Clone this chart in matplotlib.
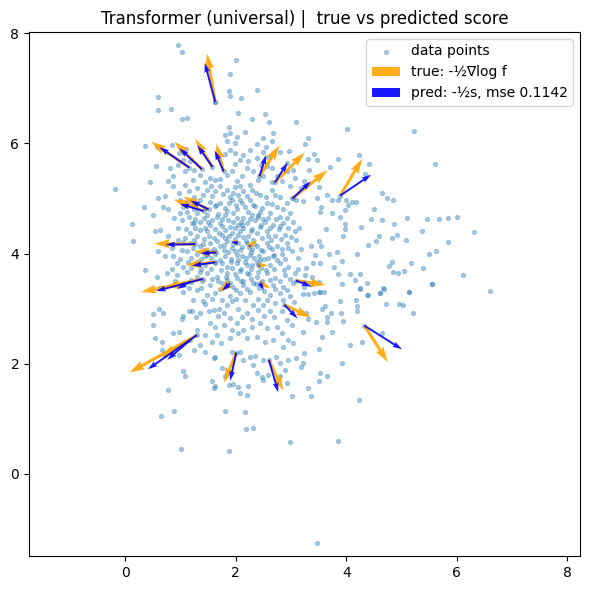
import numpy as np
import matplotlib
matplotlib.use("Agg")
import matplotlib.pyplot as plt

# data points (grouped by region)
top_pts = [(0.95, 7.79), (1.02, 7.65), (2.00, 7.51), (1.90, 7.26), (1.87, 6.95), (1.89, 6.86),
           (2.10, 6.82), (2.39, 6.97), (0.60, 6.84), (1.63, 6.75)]

upper_left_pts = [
    (0.60, 6.61), (0.83, 6.62), (1.02, 6.44), (1.12, 6.46), (2.05, 6.55), (2.53, 6.53), (2.29, 6.44),
    (2.61, 6.38), (3.09, 6.38), (1.87, 6.29), (2.16, 6.20), (2.68, 6.18), (1.90, 6.18), (1.81, 6.15),
    (2.02, 6.12), (1.84, 6.05), (1.99, 6.00), (2.50, 6.09), (2.38, 5.99), (2.65, 6.05), (2.55, 5.94),
    (0.36, 5.95), (0.57, 5.94), (0.84, 5.97), (1.10, 5.89), (0.98, 5.83),
    (1.90, 5.88), (1.99, 5.83), (2.14, 5.79), (2.26, 5.88), (2.50, 5.85), (2.80, 5.85), (2.97, 5.86),
    (2.08, 5.70), (2.23, 5.67), (2.38, 5.73), (2.59, 5.76), (2.92, 5.64), (3.04, 5.52), (1.05, 5.70),
    (0.96, 5.61), (1.18, 5.67), (0.81, 5.55), (1.24, 5.52), (0.56, 5.59),
    (1.09, 5.49), (0.87, 5.40), (0.78, 5.31), (0.86, 5.22), (1.09, 5.25), (1.15, 5.13), (1.36, 5.43),
    (1.54, 5.37), (1.63, 5.34), (1.84, 5.43), (1.93, 5.49), (2.02, 5.31), (2.20, 5.55), (2.08, 5.22),
    (2.32, 5.49), (2.50, 5.40), (2.56, 5.58), (2.74, 5.40), (2.83, 5.31), (2.98, 5.22), (2.92, 5.49),
    (3.07, 5.37), (-0.18, 5.17),
]

core_pts = [
    (1.30, 5.19), (1.48, 5.16), (1.63, 5.13), (1.72, 5.22), (1.84, 5.16), (1.96, 5.09), (2.14, 5.13),
    (2.29, 5.16), (2.44, 5.06), (2.65, 5.16), (2.80, 5.03), (3.01, 5.00), (0.34, 4.85), (0.69, 4.84),
    (0.78, 4.81), (0.99, 4.97), (1.12, 4.94), (1.24, 5.03), (1.36, 4.97), (1.54, 4.94), (1.72, 4.91),
    (1.93, 4.97), (2.08, 4.97), (2.26, 4.97), (2.56, 4.91), (2.74, 4.85), (2.92, 4.91), (3.10, 4.97),
    (0.99, 4.73), (1.12, 4.76), (1.30, 4.73), (1.48, 4.70), (1.66, 4.67), (1.81, 4.70), (1.96, 4.73),
    (2.14, 4.64), (2.29, 4.70), (2.44, 4.76), (2.62, 4.73), (2.80, 4.67), (2.98, 4.73), (0.12, 4.54),
    (1.02, 4.61), (1.21, 4.55), (1.36, 4.58), (1.54, 4.52), (1.72, 4.55), (1.90, 4.49), (2.05, 4.52),
    (2.20, 4.55), (2.35, 4.61), (2.53, 4.58), (2.68, 4.52), (2.86, 4.55), (3.04, 4.58),
    (0.15, 4.22), (0.54, 4.40), (0.63, 4.43), (0.78, 4.31), (1.18, 4.37), (1.30, 4.31), (1.48, 4.40),
    (1.60, 4.28), (1.75, 4.34), (1.93, 4.37), (2.08, 4.40), (2.23, 4.31), (2.38, 4.37), (2.56, 4.40),
    (2.71, 4.31), (2.89, 4.34), (3.07, 4.40), (1.18, 4.19), (1.36, 4.13), (1.54, 4.19), (1.72, 4.13),
    (1.84, 4.22), (2.20, 4.19), (2.38, 4.13), (2.56, 4.19), (2.74, 4.13), (2.92, 4.19), (3.10, 4.25),
    (0.60, 4.04), (0.72, 3.95), (0.87, 3.95), (1.12, 4.04), (1.30, 4.00), (1.48, 3.98), (1.63, 4.00),
    (1.81, 3.95), (1.99, 4.04), (2.11, 3.95), (2.26, 3.98), (2.50, 4.04), (2.68, 3.95), (2.83, 4.00),
    (3.01, 4.04), (0.93, 3.82), (1.05, 3.76), (1.30, 3.85), (1.45, 3.79), (1.63, 3.82), (1.84, 3.76),
    (2.02, 3.82), (2.20, 3.79), (2.38, 3.85), (2.62, 3.79), (2.80, 3.82), (2.95, 3.76),
    (0.36, 3.70), (0.57, 3.58), (0.75, 3.64), (0.93, 3.61), (1.12, 3.67), (1.30, 3.58), (1.48, 3.64),
    (1.66, 3.58), (1.84, 3.64), (2.02, 3.55), (2.20, 3.64), (2.38, 3.58), (2.56, 3.64), (2.71, 3.55),
    (2.89, 3.61), (3.07, 3.64), (1.54, 3.43), (1.75, 3.46), (1.96, 3.40), (2.14, 3.43), (2.32, 3.46),
    (2.68, 3.43), (2.86, 3.40), (3.04, 3.46), (0.63, 3.37), (1.05, 3.31), (1.30, 3.34), (1.48, 3.25),
    (1.63, 3.28), (1.90, 3.22), (2.08, 3.28), (2.26, 3.31), (2.62, 3.25), (2.80, 3.28), (2.98, 3.22),
]

# second, interleaved layer where the cloud is packed
core_dense_pts = [
    (1.40, 5.07), (1.57, 5.05), (1.77, 5.08), (1.90, 5.03), (2.04, 5.06), (2.21, 5.04), (2.37, 5.10),
    (2.55, 5.02), (2.72, 5.07),
    (1.05, 4.85), (1.22, 4.88), (1.44, 4.83), (1.62, 4.86), (1.80, 4.82), (2.00, 4.88), (2.17, 4.84),
    (2.35, 4.87), (2.48, 4.83), (2.66, 4.90), (2.85, 4.80),
    (0.88, 4.64), (1.15, 4.66), (1.27, 4.62), (1.42, 4.64), (1.58, 4.61), (1.76, 4.63), (1.86, 4.60),
    (2.02, 4.65), (2.10, 4.58), (2.25, 4.62), (2.41, 4.66), (2.58, 4.64), (2.73, 4.62), (2.92, 4.64),
    (0.95, 4.47), (1.10, 4.44), (1.27, 4.46), (1.45, 4.47), (1.63, 4.44), (1.80, 4.43), (1.98, 4.46),
    (2.14, 4.47), (2.30, 4.45), (2.44, 4.48), (2.62, 4.46), (2.78, 4.44), (2.95, 4.47), (3.15, 4.46),
    (0.95, 4.25), (1.09, 4.28), (1.24, 4.25), (1.42, 4.27), (1.66, 4.22), (1.81, 4.29), (1.99, 4.27),
    (2.14, 4.30), (2.31, 4.25), (2.47, 4.28), (2.64, 4.25), (2.82, 4.27), (3.00, 4.30),
    (0.84, 4.10), (1.03, 4.07), (1.22, 4.10), (1.43, 4.07), (1.60, 4.09), (1.78, 4.06), (1.93, 4.10),
    (2.08, 4.07), (2.30, 4.09), (2.46, 4.06), (2.65, 4.08), (2.84, 4.08), (3.18, 4.09),
    (0.99, 3.90), (1.20, 3.92), (1.38, 3.90), (1.56, 3.91), (1.72, 3.88), (1.92, 3.90), (2.05, 3.88),
    (2.18, 3.91), (2.33, 3.92), (2.44, 3.89), (2.58, 3.91), (2.75, 3.89), (2.90, 3.90), (3.12, 3.92),
    (0.84, 3.72), (1.20, 3.73), (1.38, 3.71), (1.55, 3.72), (1.74, 3.70), (1.93, 3.73), (2.10, 3.71),
    (2.28, 3.72), (2.46, 3.73), (2.70, 3.71), (2.88, 3.70), (3.12, 3.72),
    (0.90, 3.50), (1.20, 3.52), (1.39, 3.51), (1.57, 3.53), (1.85, 3.52), (2.10, 3.50), (2.27, 3.53),
    (2.47, 3.51), (2.62, 3.52), (2.80, 3.50), (2.98, 3.53),
    (1.15, 3.37), (1.38, 3.38), (1.72, 3.35), (2.00, 3.33), (2.20, 3.36), (2.42, 3.37), (2.52, 3.32),
    (2.72, 3.36), (2.92, 3.34),
    (1.22, 3.16), (1.40, 3.14), (1.58, 3.17), (1.75, 3.15), (2.00, 3.18), (2.16, 3.15), (2.40, 3.17),
    (2.57, 3.15), (2.86, 3.16), (3.05, 3.12),
    (1.28, 2.84), (1.68, 2.86), (1.90, 2.83), (2.12, 2.85), (2.30, 2.82), (2.52, 2.86), (2.70, 2.84),
    (1.22, 5.33), (1.45, 5.30), (1.72, 5.36), (2.12, 5.40), (2.40, 5.33), (2.65, 5.30), (1.98, 5.62),
    (2.45, 5.60), (1.80, 5.80), (2.65, 5.55),
]

# third layer: the darkest middle of the cloud
center_pts = [
    (1.68, 4.72), (1.85, 4.78), (2.03, 4.80), (2.22, 4.75), (2.40, 4.70), (1.75, 4.50), (1.95, 4.58),
    (2.12, 4.52), (2.28, 4.40), (2.45, 4.52), (1.70, 4.38), (1.88, 4.32), (2.05, 4.34), (2.18, 4.22),
    (2.34, 4.18), (1.78, 4.16), (1.96, 4.18), (2.12, 4.12), (2.28, 4.02), (2.42, 3.96), (1.86, 4.02),
    (2.02, 3.97), (2.16, 3.85), (2.30, 3.80), (1.76, 3.82), (1.92, 3.84), (2.08, 3.68), (2.24, 3.62),
    (2.40, 3.66), (1.82, 3.58), (1.98, 3.62), (2.14, 3.50), (2.36, 3.44), (1.68, 3.50), (2.55, 3.70),
    (2.52, 3.90), (2.60, 4.12), (2.58, 4.32), (2.50, 4.62), (1.58, 4.05), (1.52, 4.32), (1.50, 4.58),
    (1.35, 4.42), (1.40, 4.18), (1.45, 3.95), (1.36, 3.66), (1.25, 4.55), (1.05, 4.20), (1.14, 3.85),
    (2.70, 3.98), (2.80, 4.50), (2.95, 4.10), (1.65, 4.88), (1.88, 4.92), (2.12, 4.92), (2.32, 4.88),
    (1.98, 5.20), (2.25, 5.25), (1.55, 5.22), (1.25, 4.80), (0.98, 5.10), (0.72, 5.05), (0.50, 4.70),
    (0.45, 5.30), (0.60, 5.00),
]

right_pts = [
    (3.31, 6.09), (3.25, 5.99), (4.02, 6.26), (5.23, 6.23), (5.61, 5.62), (3.42, 5.81), (3.31, 5.71),
    (3.47, 5.70), (3.33, 5.52), (3.71, 5.57), (3.86, 5.71), (4.24, 5.79), (4.42, 5.62), (4.34, 5.45),
    (3.24, 5.31), (3.28, 5.23), (3.19, 5.19), (3.50, 5.20), (3.66, 5.06), (3.22, 4.96), (3.47, 5.00),
    (3.53, 4.76), (3.74, 4.97), (3.86, 4.97), (3.99, 4.98), (4.10, 4.94), (4.18, 4.94), (4.04, 4.88),
    (3.98, 4.79), (3.88, 4.66), (3.74, 4.73), (3.54, 4.85), (4.64, 5.09), (4.73, 5.00), (4.85, 4.97),
    (4.50, 4.81), (4.44, 4.63), (4.65, 4.61), (4.86, 4.54), (5.10, 4.64), (5.47, 4.63), (5.68, 4.63),
    (5.85, 4.64), (5.38, 4.41), (5.09, 4.25), (4.91, 4.33), (4.82, 4.28), (4.60, 4.32), (4.54, 4.22),
    (4.40, 4.16), (4.26, 4.49), (3.97, 4.53), (3.98, 4.45), (3.95, 4.32), (3.63, 4.44), (3.51, 4.23),
    (3.36, 4.14), (3.44, 3.97), (3.54, 4.13), (3.68, 4.00), (3.84, 4.03), (4.19, 4.00), (3.93, 3.87),
    (3.39, 3.82), (3.28, 3.73), (3.25, 3.61), (3.53, 3.82), (3.77, 3.75), (3.86, 3.63), (4.07, 3.63),
    (4.25, 3.63), (4.16, 3.52), (4.37, 3.46), (4.25, 3.35), (4.40, 3.25), (4.61, 3.29), (4.69, 3.35),
    (4.78, 3.78), (4.82, 3.84), (4.85, 3.67), (4.93, 3.64), (5.05, 3.69), (5.18, 3.82), (5.39, 3.73),
    (5.50, 3.99), (5.62, 4.04), (5.85, 4.20), (5.56, 3.45), (5.14, 3.31), (3.38, 3.58), (3.36, 3.45),
    (3.50, 3.31), (3.59, 3.31), (3.24, 3.40), (3.30, 3.27),
    (6.00, 4.66), (6.31, 4.39), (6.11, 3.61), (6.61, 3.32),
]

lower_right_pts = [
    (3.50, 3.49), (3.53, 3.31), (3.41, 3.29), (3.21, 3.27), (3.93, 3.44), (4.25, 3.37), (4.38, 3.25),
    (4.18, 3.15), (4.20, 3.04), (4.19, 2.95), (3.90, 2.92), (3.94, 2.78), (3.88, 3.13), (3.72, 2.92),
    (3.66, 2.84), (3.65, 2.75), (3.56, 2.99), (3.62, 3.04), (3.45, 2.75), (3.28, 2.92), (3.22, 2.58),
    (3.74, 2.57), (3.57, 2.49), (3.31, 2.82), (4.06, 2.34), (4.28, 2.40), (4.65, 2.55), (4.61, 3.28),
    (4.67, 3.37), (4.72, 3.08), (4.96, 3.08), (5.03, 3.06), (5.21, 2.92), (5.14, 3.31), (5.56, 3.45),
    (3.50, 2.27), (3.24, 2.19), (3.22, 2.01), (3.18, 1.94), (3.53, 1.83), (3.66, 1.78), (3.51, 1.69),
    (3.30, 1.55), (3.36, 1.41), (3.92, 2.01), (4.24, 1.34),
]

lower_left_pts = [
    (0.51, 2.90), (0.68, 2.92), (0.62, 2.99), (0.51, 2.70), (1.05, 2.87), (1.02, 2.82), (1.15, 2.95),
    (1.21, 2.96), (1.36, 2.92), (1.51, 2.95), (1.45, 3.09), (1.60, 2.98), (1.69, 2.99), (1.78, 2.92),
    (1.84, 3.07), (1.93, 3.13), (2.05, 2.99), (2.20, 2.92), (2.32, 3.07), (2.41, 2.98), (2.50, 3.07),
    (2.62, 2.95), (2.71, 3.10), (2.83, 2.95), (2.92, 2.79), (3.01, 2.70), (1.54, 2.73), (1.63, 2.67),
    (1.78, 2.70), (1.93, 2.61), (2.02, 2.73), (2.14, 2.61), (2.29, 2.67), (2.44, 2.73), (2.56, 2.64),
    (2.74, 2.67), (2.83, 2.55), (2.95, 2.43), (0.54, 2.46), (0.66, 2.40), (0.87, 2.55), (0.98, 2.57),
    (1.30, 2.61), (1.45, 2.52), (1.66, 2.52), (1.57, 2.40), (1.73, 2.37), (1.90, 2.46), (2.05, 2.55),
    (2.20, 2.46), (2.38, 2.49), (2.53, 2.40), (2.68, 2.43), (2.86, 2.31), (3.04, 2.37), (0.66, 2.25),
    (0.72, 2.16), (0.98, 2.16), (1.24, 2.25), (1.36, 2.34), (1.45, 2.22), (1.60, 2.10), (1.63, 2.13),
    (1.93, 2.22), (2.08, 2.22), (2.13, 2.07), (2.26, 2.13), (2.35, 2.14), (2.50, 2.07), (2.73, 2.13),
    (2.80, 2.01), (2.95, 2.07), (3.10, 2.10), (1.04, 1.86), (1.09, 1.77), (1.57, 1.69), (1.60, 1.56),
    (1.63, 1.60), (1.87, 1.62), (1.96, 1.63), (2.05, 1.58), (2.20, 1.43), (2.23, 1.60), (2.08, 1.46),
    (2.47, 1.75), (2.50, 1.71), (2.59, 1.80), (2.80, 1.77), (2.92, 1.65), (3.01, 1.41), (1.75, 1.92),
    (1.81, 1.78), (2.32, 1.98), (2.38, 1.83), (2.89, 1.89), (0.77, 1.52), (0.89, 1.14), (0.65, 1.05),
    (1.80, 1.14), (2.16, 1.12), (2.19, 0.81), (2.32, 0.84),
]

bottom_pts = [(1.01, 0.46), (1.87, 0.42), (2.98, 0.58), (3.86, 0.60), (3.47, -1.25)]

# arrows: origin, true score (orange) and predicted score (blue), as drawn in data units
arrow_x = [1.63, 2.43, 2.71, 3.03, 3.89, 1.16, 1.39, 1.58, 1.78, 1.42, 1.51, 1.27, 1.65, 1.63,
           1.41, 1.19, 1.90, 2.04, 2.24, 2.41, 2.44, 3.09, 2.88, 4.33, 2.60, 2.01, 1.30, 1.18]
arrow_y = [6.75, 5.40, 5.29, 5.00, 5.05, 5.56, 5.53, 5.57, 5.49, 4.77, 4.80, 4.17, 4.02, 3.84,
           3.54, 3.49, 3.46, 4.19, 4.12, 3.79, 3.46, 3.51, 3.07, 2.69, 2.07, 2.20, 2.52, 2.43]
true_u = [-0.15, 0.36, 0.54, 0.63, 0.40, -0.69, -0.50, -0.31, -0.13, -0.54, -0.46, -0.74, -0.40, -0.54,
          -1.12, -0.47, -0.23, -0.13, 0.15, 0.18, 0.19, 0.53, 0.48, 0.42, 0.26, -0.22, -1.22, -0.54]
true_v = [0.88, 0.56, 0.54, 0.51, 0.67, 0.47, 0.50, 0.51, 0.50, 0.21, 0.23, 0.01, 0.02, -0.05,
          -0.24, -0.11, -0.16, 0.05, 0.13, -0.01, -0.09, -0.08, -0.23, -0.66, -0.56, -0.54, -0.68, -0.31]
pred_u = [-0.19, 0.12, 0.23, 0.33, 0.56, -0.54, -0.41, -0.27, -0.16, -0.43, -0.33, -0.54, -0.29, -0.42,
          -0.85, -0.25, -0.15, -0.13, 0.05, 0.04, 0.07, 0.28, 0.24, 0.68, 0.17, -0.11, -0.89, -0.42]
pred_v = [0.71, 0.39, 0.36, 0.31, 0.38, 0.37, 0.38, 0.39, 0.38, 0.13, 0.16, -0.01, -0.02, -0.06,
          -0.22, -0.13, -0.14, 0.02, 0.04, -0.04, -0.13, -0.11, -0.25, -0.43, -0.59, -0.51, -0.62, -0.36]

mse = 0.1142

all_pts = np.array(top_pts + upper_left_pts + core_pts + core_dense_pts + center_pts + right_pts
                   + lower_right_pts + lower_left_pts + bottom_pts
                   + list(zip(arrow_x, arrow_y)))

fig = plt.figure(figsize=(5.9, 5.9), dpi=100)
ax = fig.add_axes([29 / 590, 34 / 590, 551 / 590, 524 / 590])

ax.scatter(all_pts[:, 0], all_pts[:, 1], s=8, alpha=0.35, color="tab:blue", label="data points")
ax.quiver(arrow_x, arrow_y, true_u, true_v, angles="xy", scale_units="xy", scale=1,
          color="orange", alpha=0.9, width=0.0055, label="true: -½∇log f")
ax.quiver(arrow_x, arrow_y, pred_u, pred_v, angles="xy", scale_units="xy", scale=1,
          color="blue", alpha=0.9, width=0.0035, label="pred: -½s, mse {:.4f}".format(mse))

ax.set_xlim(-1.74, 8.23)
ax.set_ylim(-1.49, 8.02)
ax.set_title("Transformer (universal) |  true vs predicted score")
ax.legend(loc="upper right")

fig.savefig("out.png")
